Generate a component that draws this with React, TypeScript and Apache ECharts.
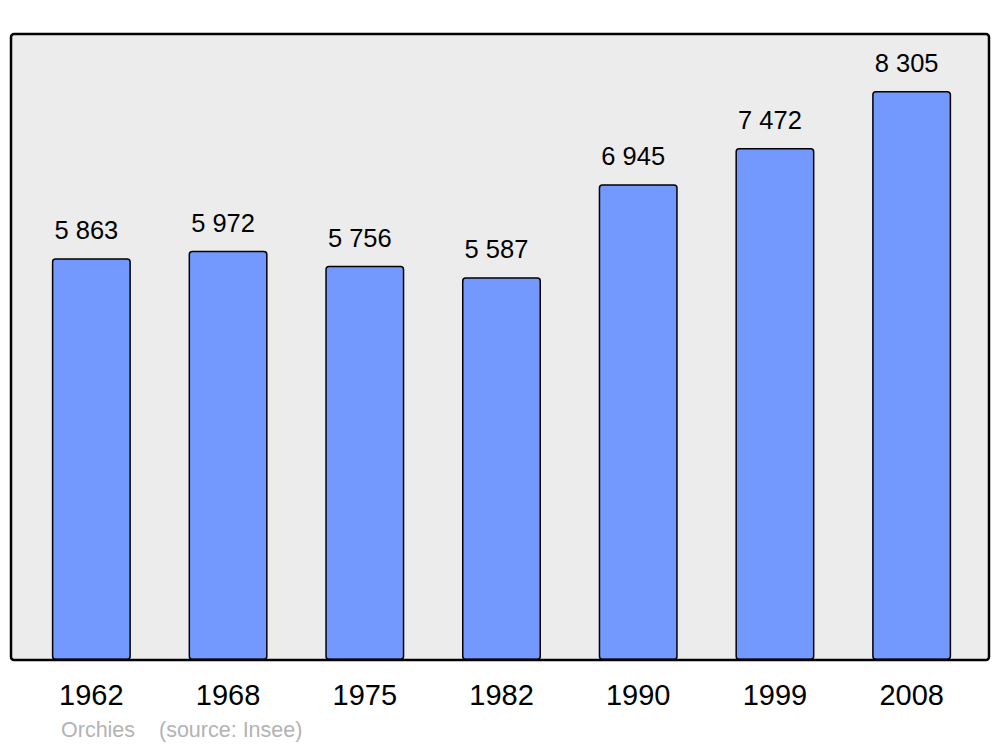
import React, { useEffect, useRef } from "react";
import * as echarts from "echarts";

const years = ["1962", "1968", "1975", "1982", "1990", "1999", "2008"];
const population = [5863, 5972, 5756, 5587, 6945, 7472, 8305];
const townName = "Orchies";
const sourceText = "(source: Insee)";

function fmt(v: number): string {
  return String(v).replace(/\B(?=(\d{3})+(?!\d))/g, " ");
}

export default function App() {
  const ref = useRef<HTMLDivElement>(null);
  useEffect(() => {
    if (!ref.current) return;
    const chart = echarts.init(ref.current, null, { renderer: "svg" });
    chart.setOption({
      animation: false,
      backgroundColor: "#ffffff",
      textStyle: { fontFamily: "Liberation Sans" },
      grid: { left: 23, right: 20, top: 34, bottom: 87 },
      xAxis: {
        type: "category",
        data: years,
        axisLine: { show: false },
        axisTick: { show: false },
        axisLabel: {
          color: "#000",
          fontSize: 29,
          margin: 20,
          fontFamily: "Liberation Sans",
        },
      },
      yAxis: {
        type: "value",
        min: 0,
        max: 9137,
        show: false,
        splitLine: { show: false },
      },
      graphic: [
        {
          type: "rect",
          z: -10,
          shape: { x: 11, y: 34, width: 978, height: 626, r: 3 },
          style: { fill: "#ececec", stroke: "none" },
        },
        {
          type: "rect",
          z: 100,
          shape: { x: 11, y: 34, width: 978, height: 626, r: 3 },
          style: { fill: "none", stroke: "#000", lineWidth: 2.5 },
          silent: true,
        },
        {
          type: "text",
          x: 61,
          y: 730,
          style: {
            text: townName,
            fill: "#b3b3b3",
            fontSize: 21.5,
            fontFamily: "Liberation Sans",
            verticalAlign: "middle",
          },
        },
        {
          type: "text",
          x: 159,
          y: 730,
          style: {
            text: sourceText,
            fill: "#b3b3b3",
            fontSize: 21.5,
            fontFamily: "Liberation Sans",
            verticalAlign: "middle",
          },
        },
      ],
      series: [
        {
          type: "bar",
          data: population,
          barWidth: 79,
          itemStyle: {
            color: "#7399ff",
            borderColor: "#000",
            borderWidth: 1.5,
            borderRadius: 3,
          },
          label: {
            show: true,
            position: "top",
            distance: 15,
            offset: [-5, 0],
            color: "#000",
            fontSize: 25.5,
            fontFamily: "Liberation Sans",
            formatter: (p: any) => fmt(p.value),
          },
        },
      ],
    });
    return () => chart.dispose();
  }, []);
  return (
    <div
      ref={ref}
      style={{ position: "absolute", left: 0, top: 0, width: 1000, height: 747 }}
    />
  );
}
